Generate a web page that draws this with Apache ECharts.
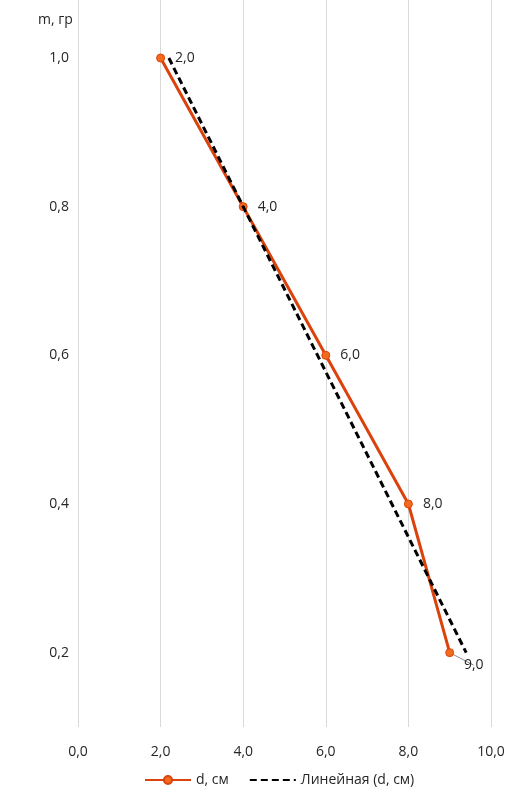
<!DOCTYPE html>
<html>
<head>
<meta charset="utf-8">
<script src="https://cdn.jsdelivr.net/npm/echarts@6/dist/echarts.min.js"></script>
<style>
  html, body { margin: 0; padding: 0; background: #fff; }
  #chart { width: 513px; height: 797px; }
</style>
</head>
<body>
<div id="chart"></div>
<script>
// measured values: d (cm) vs m (g)
const dValues = [2.0, 4.0, 6.0, 8.0, 9.0];
const mValues = [1.0, 0.8, 0.6, 0.4, 0.2];
// linear trendline endpoints
const trendD = [2.2, 9.4];
const trendM = [1.0, 0.2];
// labelled ticks on the m axis
const mTicks = [0.2, 0.4, 0.6, 0.8, 1.0];

const FONT = '"Open Sans", "Noto Sans", sans-serif';
const TEXT = '#262626';
const comma = (v, digits) => v.toFixed(digits).replace('.', ',');

const chart = echarts.init(document.getElementById('chart'));

const pointData = dValues.map((d, i) => {
  const item = { value: [d, mValues[i]] };
  if (i === dValues.length - 1) {
    item.label = { position: 'bottom', distance: 4, offset: [24, -3] };
    item.labelLine = { show: true, lineStyle: { color: '#8c8c8c', width: 1 } };
  }
  return item;
});

chart.setOption({
  animation: false,
  textStyle: { fontFamily: FONT },
  title: {
    text: 'm, гр',
    left: 33,
    top: 8,
    textStyle: { fontSize: 14, fontWeight: 'normal', color: TEXT, fontFamily: FONT }
  },
  grid: { left: 78, right: 22, top: 0, bottom: 70, containLabel: false },
  legend: {
    bottom: 5,
    left: 139,
    itemWidth: 46,
    itemHeight: 10,
    itemGap: 20,
    textStyle: { fontSize: 14, color: TEXT, fontFamily: FONT },
    data: [
      { name: 'd, см' },
      { name: 'Линейная (d, см)', itemStyle: { color: 'rgba(0,0,0,0)', borderWidth: 0 } }
    ]
  },
  xAxis: {
    type: 'value',
    min: 0,
    max: 10,
    interval: 2,
    axisLine: { show: false },
    axisTick: { show: false },
    splitLine: { show: true, lineStyle: { color: '#d9d9d9', width: 1 } },
    axisLabel: {
      margin: 18,
      fontSize: 14,
      color: TEXT,
      formatter: v => comma(v, 1)
    }
  },
  yAxis: {
    type: 'value',
    min: 0.1,
    max: 1.078,
    axisLine: { show: false },
    axisTick: { show: false },
    splitLine: { show: false },
    axisLabel: {
      margin: 9,
      fontSize: 14,
      color: TEXT,
      customValues: mTicks,
      formatter: v => {
        const t = Math.round(v * 100);
        return (t % 20 === 0 && t >= 20 && t <= 100) ? comma(v, 1) : '';
      }
    }
  },
  series: [
    {
      name: 'd, см',
      type: 'line',
      data: pointData,
      symbol: 'circle',
      symbolSize: 8,
      lineStyle: { color: '#DC420B', width: 3 },
      itemStyle: { color: '#F26B1D', borderColor: '#DC420B', borderWidth: 1 },
      label: {
        show: true,
        position: 'right',
        distance: 10,
        fontSize: 14,
        color: TEXT,
        formatter: p => comma(p.value[0], 1)
      },
      z: 2
    },
    {
      name: 'Линейная (d, см)',
      type: 'line',
      data: trendD.map((d, i) => [d, trendM[i]]),
      symbol: 'none',
      lineStyle: { color: '#000', width: 3, type: [7, 4] },
      itemStyle: { color: '#000' },
      z: 3
    }
  ]
});
</script>
</body>
</html>
